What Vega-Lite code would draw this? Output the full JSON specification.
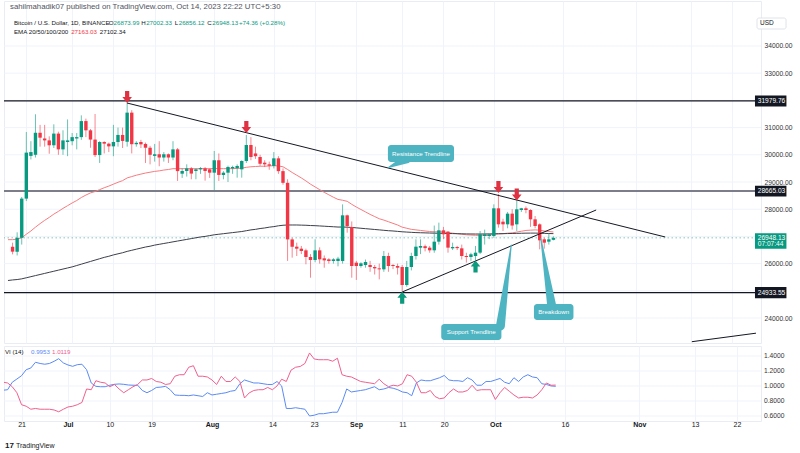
{
"$schema":"https://vega.github.io/schema/vega-lite/v6.json",
"background":"#ffffff",
"padding":{"left":2,"top":0,"right":0,"bottom":0},
"spacing":1,
"config":{"font":"Liberation Sans","view":{"stroke":"#e9ecf2"},"axis":{"ticks":false,"tickSize":0,"domain":false,"labelFontSize":7,"labelColor":"#333333"}},
"datasets":{
"candles":[
{"d":"2023-06-18","o":26620,"h":26770,"l":26340,"c":26440},
{"d":"2023-06-19","o":26440,"h":27150,"l":26300,"c":26950},
{"d":"2023-06-20","o":26950,"h":28450,"l":26700,"c":28390},
{"d":"2023-06-21","o":28390,"h":30840,"l":28300,"c":30080},
{"d":"2023-06-22","o":29960,"h":30500,"l":29830,"c":30100},
{"d":"2023-06-23","o":30000,"h":31490,"l":29900,"c":30810},
{"d":"2023-06-24","o":30810,"h":31100,"l":30300,"c":30630},
{"d":"2023-06-25","o":30600,"h":31100,"l":30300,"c":30530},
{"d":"2023-06-26","o":30530,"h":30680,"l":30040,"c":30350},
{"d":"2023-06-27","o":30350,"h":31120,"l":30250,"c":30780},
{"d":"2023-06-28","o":30780,"h":30850,"l":30000,"c":30200},
{"d":"2023-06-29","o":30200,"h":30900,"l":30000,"c":30530},
{"d":"2023-06-30","o":30470,"h":31300,"l":29950,"c":30530},
{"d":"2023-07-01","o":30500,"h":30800,"l":30350,"c":30650},
{"d":"2023-07-02","o":30600,"h":30800,"l":30200,"c":30650},
{"d":"2023-07-03","o":30650,"h":31450,"l":30550,"c":31240},
{"d":"2023-07-04","o":31240,"h":31330,"l":30650,"c":30900},
{"d":"2023-07-05","o":30900,"h":30950,"l":30260,"c":30560},
{"d":"2023-07-06","o":30560,"h":31500,"l":29920,"c":29990},
{"d":"2023-07-07","o":29990,"h":30500,"l":29700,"c":30470},
{"d":"2023-07-08","o":30470,"h":30500,"l":30050,"c":30410},
{"d":"2023-07-09","o":30410,"h":30450,"l":30100,"c":30310},
{"d":"2023-07-10","o":30310,"h":31100,"l":29950,"c":30470},
{"d":"2023-07-11","o":30470,"h":31000,"l":30300,"c":30730},
{"d":"2023-07-12","o":30730,"h":31000,"l":30250,"c":30510},
{"d":"2023-07-13","o":30480,"h":31920,"l":30300,"c":31550},
{"d":"2023-07-14","o":31550,"h":31640,"l":30050,"c":30390},
{"d":"2023-07-15","o":30390,"h":30500,"l":30300,"c":30440},
{"d":"2023-07-16","o":30470,"h":30550,"l":30250,"c":30385},
{"d":"2023-07-17","o":30400,"h":30450,"l":29700,"c":30260},
{"d":"2023-07-18","o":30260,"h":30330,"l":29650,"c":30000},
{"d":"2023-07-19","o":29960,"h":30400,"l":29750,"c":30020},
{"d":"2023-07-20","o":30020,"h":30500,"l":29580,"c":29900},
{"d":"2023-07-21","o":29900,"h":30100,"l":29750,"c":30020},
{"d":"2023-07-22","o":30020,"h":30050,"l":29700,"c":29900},
{"d":"2023-07-23","o":29900,"h":30500,"l":29800,"c":30200},
{"d":"2023-07-24","o":30200,"h":30250,"l":29040,"c":29400},
{"d":"2023-07-25","o":29306,"h":29500,"l":29150,"c":29405},
{"d":"2023-07-26","o":29405,"h":29650,"l":29200,"c":29500},
{"d":"2023-07-27","o":29500,"h":29550,"l":29100,"c":29310},
{"d":"2023-07-28","o":29405,"h":29500,"l":29100,"c":29466},
{"d":"2023-07-29","o":29466,"h":29550,"l":29300,"c":29510},
{"d":"2023-07-30","o":29500,"h":29550,"l":29050,"c":29405},
{"d":"2023-07-31","o":29466,"h":29500,"l":29150,"c":29343},
{"d":"2023-08-01","o":29343,"h":30140,"l":28700,"c":29800},
{"d":"2023-08-02","o":29800,"h":30050,"l":29040,"c":29260},
{"d":"2023-08-03","o":29257,"h":29400,"l":29100,"c":29343},
{"d":"2023-08-04","o":29343,"h":29600,"l":29000,"c":29552},
{"d":"2023-08-05","o":29500,"h":29600,"l":29300,"c":29552},
{"d":"2023-08-06","o":29510,"h":29650,"l":29160,"c":29590},
{"d":"2023-08-07","o":29466,"h":29800,"l":29160,"c":29772},
{"d":"2023-08-08","o":29772,"h":30730,"l":29700,"c":30360},
{"d":"2023-08-09","o":30360,"h":30650,"l":29800,"c":29920},
{"d":"2023-08-10","o":30050,"h":30300,"l":29850,"c":29950},
{"d":"2023-08-11","o":29919,"h":30000,"l":29600,"c":29674},
{"d":"2023-08-12","o":29711,"h":29800,"l":29550,"c":29650},
{"d":"2023-08-13","o":29650,"h":29750,"l":29450,"c":29600},
{"d":"2023-08-14","o":29590,"h":30100,"l":29500,"c":29870},
{"d":"2023-08-15","o":29870,"h":29950,"l":29300,"c":29400},
{"d":"2023-08-16","o":29400,"h":29500,"l":28900,"c":28970},
{"d":"2023-08-17","o":28970,"h":29100,"l":26100,"c":26890},
{"d":"2023-08-18","o":26890,"h":26950,"l":26220,"c":26620},
{"d":"2023-08-19","o":26623,"h":26770,"l":26280,"c":26550},
{"d":"2023-08-20","o":26550,"h":26650,"l":26350,"c":26464},
{"d":"2023-08-21","o":26488,"h":26550,"l":25974,"c":26243},
{"d":"2023-08-22","o":26243,"h":26350,"l":25483,"c":26133},
{"d":"2023-08-23","o":26133,"h":26893,"l":26050,"c":26488},
{"d":"2023-08-24","o":26488,"h":26600,"l":26000,"c":26157},
{"d":"2023-08-25","o":26194,"h":26300,"l":25850,"c":26120},
{"d":"2023-08-26","o":26157,"h":26200,"l":26000,"c":26096},
{"d":"2023-08-27","o":26096,"h":26200,"l":26000,"c":26157},
{"d":"2023-08-28","o":26096,"h":26250,"l":25900,"c":26182},
{"d":"2023-08-29","o":26096,"h":28179,"l":26000,"c":27775},
{"d":"2023-08-30","o":27775,"h":27800,"l":27138,"c":27383},
{"d":"2023-08-31","o":27346,"h":27550,"l":25483,"c":25912},
{"d":"2023-09-01","o":26035,"h":26100,"l":25400,"c":25912},
{"d":"2023-09-02","o":25912,"h":26050,"l":25850,"c":26010},
{"d":"2023-09-03","o":25950,"h":26150,"l":25850,"c":26060},
{"d":"2023-09-04","o":25950,"h":26100,"l":25700,"c":25875},
{"d":"2023-09-05","o":25875,"h":25950,"l":25600,"c":25826},
{"d":"2023-09-06","o":25826,"h":26000,"l":25422,"c":25790},
{"d":"2023-09-07","o":25790,"h":26464,"l":25700,"c":26280},
{"d":"2023-09-08","o":26280,"h":26400,"l":25700,"c":25912},
{"d":"2023-09-09","o":25950,"h":25980,"l":25800,"c":25912},
{"d":"2023-09-10","o":25912,"h":26000,"l":25600,"c":25850},
{"d":"2023-09-11","o":25875,"h":25950,"l":24960,"c":25214},
{"d":"2023-09-12","o":25214,"h":26100,"l":25150,"c":25875},
{"d":"2023-09-13","o":25876,"h":26400,"l":25750,"c":26280},
{"d":"2023-09-14","o":26280,"h":26893,"l":26150,"c":26623},
{"d":"2023-09-15","o":26586,"h":26893,"l":26350,"c":26647},
{"d":"2023-09-16","o":26640,"h":26700,"l":26450,"c":26570},
{"d":"2023-09-17","o":26586,"h":26650,"l":26400,"c":26489},
{"d":"2023-09-18","o":26489,"h":27400,"l":26400,"c":26807},
{"d":"2023-09-19","o":26807,"h":27506,"l":26700,"c":27224},
{"d":"2023-09-20","o":27224,"h":27350,"l":26900,"c":27077},
{"d":"2023-09-21","o":27175,"h":27200,"l":26403,"c":26587},
{"d":"2023-09-22","o":26562,"h":26770,"l":26500,"c":26611},
{"d":"2023-09-23","o":26611,"h":26650,"l":26500,"c":26570},
{"d":"2023-09-24","o":26562,"h":26700,"l":26150,"c":26280},
{"d":"2023-09-25","o":26280,"h":26400,"l":26035,"c":26243},
{"d":"2023-09-26","o":26243,"h":26400,"l":26100,"c":26342},
{"d":"2023-09-27","o":26280,"h":26650,"l":26120,"c":26403},
{"d":"2023-09-28","o":26403,"h":27200,"l":26350,"c":27077},
{"d":"2023-09-29","o":27016,"h":27250,"l":26700,"c":27077},
{"d":"2023-09-30","o":27016,"h":27100,"l":26900,"c":27077},
{"d":"2023-10-01","o":27016,"h":28180,"l":26950,"c":28033},
{"d":"2023-10-02","o":28033,"h":28560,"l":27322,"c":27444},
{"d":"2023-10-03","o":27542,"h":27650,"l":27200,"c":27444},
{"d":"2023-10-04","o":27444,"h":27900,"l":27300,"c":27837},
{"d":"2023-10-05","o":27837,"h":28000,"l":27250,"c":27400},
{"d":"2023-10-06","o":27444,"h":28327,"l":27200,"c":27996},
{"d":"2023-10-07","o":27971,"h":28050,"l":27900,"c":28033},
{"d":"2023-10-08","o":28033,"h":28100,"l":27850,"c":27971},
{"d":"2023-10-09","o":27971,"h":28000,"l":27350,"c":27628},
{"d":"2023-10-10","o":27628,"h":27750,"l":27300,"c":27383},
{"d":"2023-10-11","o":27444,"h":27480,"l":26525,"c":26856},
{"d":"2023-10-12","o":26893,"h":26950,"l":26550,"c":26770},
{"d":"2023-10-13","o":26807,"h":27100,"l":26700,"c":26893},
{"d":"2023-10-14","o":26873.99,"h":27002.33,"l":26856.12,"c":26948.13}
],
"ind":[
{"d":"2023-06-17","e50":26880,"e200":25380,"vp":0.943,"vm":1.05},
{"d":"2023-06-18","e50":26880,"e200":25400,"vp":0.95,"vm":1.04},
{"d":"2023-06-19","e50":26900,"e200":25415,"vp":1.05,"vm":0.99},
{"d":"2023-06-20","e50":26950,"e200":25440,"vp":1.093,"vm":0.91},
{"d":"2023-06-21","e50":27080,"e200":25480,"vp":1.137,"vm":0.75},
{"d":"2023-06-22","e50":27200,"e200":25520,"vp":1.217,"vm":0.73},
{"d":"2023-06-23","e50":27340,"e200":25560,"vp":1.24,"vm":0.69},
{"d":"2023-06-24","e50":27470,"e200":25600,"vp":1.316,"vm":0.70},
{"d":"2023-06-25","e50":27590,"e200":25640,"vp":1.30,"vm":0.69},
{"d":"2023-06-26","e50":27700,"e200":25680,"vp":1.29,"vm":0.69},
{"d":"2023-06-27","e50":27820,"e200":25720,"vp":1.30,"vm":0.69},
{"d":"2023-06-28","e50":27920,"e200":25760,"vp":1.329,"vm":0.68},
{"d":"2023-06-29","e50":28030,"e200":25800,"vp":1.364,"vm":0.656},
{"d":"2023-06-30","e50":28130,"e200":25840,"vp":1.307,"vm":0.69},
{"d":"2023-07-01","e50":28230,"e200":25880,"vp":1.28,"vm":0.72},
{"d":"2023-07-02","e50":28320,"e200":25930,"vp":1.262,"vm":0.73},
{"d":"2023-07-03","e50":28430,"e200":25980,"vp":1.284,"vm":0.75},
{"d":"2023-07-04","e50":28520,"e200":26030,"vp":1.29,"vm":0.78},
{"d":"2023-07-05","e50":28600,"e200":26080,"vp":1.217,"vm":0.96},
{"d":"2023-07-06","e50":28650,"e200":26130,"vp":1.04,"vm":0.95},
{"d":"2023-07-07","e50":28720,"e200":26180,"vp":0.995,"vm":1.07},
{"d":"2023-07-08","e50":28790,"e200":26230,"vp":0.99,"vm":1.05},
{"d":"2023-07-09","e50":28850,"e200":26270,"vp":0.99,"vm":1.04},
{"d":"2023-07-10","e50":28920,"e200":26320,"vp":1.01,"vm":0.99},
{"d":"2023-07-11","e50":28990,"e200":26360,"vp":1.022,"vm":1.02},
{"d":"2023-07-12","e50":29050,"e200":26400,"vp":1.027,"vm":0.96},
{"d":"2023-07-13","e50":29150,"e200":26450,"vp":1.022,"vm":0.91},
{"d":"2023-07-14","e50":29200,"e200":26490,"vp":1.013,"vm":0.95},
{"d":"2023-07-15","e50":29250,"e200":26530,"vp":1.01,"vm":0.99},
{"d":"2023-07-16","e50":29290,"e200":26570,"vp":1.01,"vm":1.02},
{"d":"2023-07-17","e50":29330,"e200":26610,"vp":0.94,"vm":1.08},
{"d":"2023-07-18","e50":29360,"e200":26640,"vp":0.91,"vm":1.08},
{"d":"2023-07-19","e50":29390,"e200":26680,"vp":0.94,"vm":1.10},
{"d":"2023-07-20","e50":29410,"e200":26710,"vp":0.98,"vm":1.06},
{"d":"2023-07-21","e50":29440,"e200":26740,"vp":0.985,"vm":1.05},
{"d":"2023-07-22","e50":29460,"e200":26770,"vp":0.995,"vm":1.02},
{"d":"2023-07-23","e50":29490,"e200":26800,"vp":0.95,"vm":1.03},
{"d":"2023-07-24","e50":29490,"e200":26830,"vp":0.88,"vm":1.13},
{"d":"2023-07-25","e50":29490,"e200":26860,"vp":0.875,"vm":1.15},
{"d":"2023-07-26","e50":29490,"e200":26890,"vp":0.875,"vm":1.15},
{"d":"2023-07-27","e50":29490,"e200":26920,"vp":0.87,"vm":1.25},
{"d":"2023-07-28","e50":29490,"e200":26950,"vp":0.88,"vm":1.27},
{"d":"2023-07-29","e50":29490,"e200":26980,"vp":0.87,"vm":1.13},
{"d":"2023-07-30","e50":29490,"e200":27000,"vp":0.86,"vm":1.13},
{"d":"2023-07-31","e50":29490,"e200":27030,"vp":0.91,"vm":1.12},
{"d":"2023-08-01","e50":29500,"e200":27060,"vp":0.88,"vm":1.08},
{"d":"2023-08-02","e50":29490,"e200":27080,"vp":0.89,"vm":1.02},
{"d":"2023-08-03","e50":29490,"e200":27100,"vp":0.90,"vm":1.13},
{"d":"2023-08-04","e50":29490,"e200":27120,"vp":0.91,"vm":1.06},
{"d":"2023-08-05","e50":29490,"e200":27140,"vp":0.93,"vm":1.06},
{"d":"2023-08-06","e50":29500,"e200":27160,"vp":0.94,"vm":1.12},
{"d":"2023-08-07","e50":29510,"e200":27180,"vp":1.03,"vm":1.06},
{"d":"2023-08-08","e50":29540,"e200":27210,"vp":1.08,"vm":0.84},
{"d":"2023-08-09","e50":29560,"e200":27240,"vp":1.06,"vm":0.907},
{"d":"2023-08-10","e50":29570,"e200":27260,"vp":1.04,"vm":0.94},
{"d":"2023-08-11","e50":29580,"e200":27290,"vp":1.04,"vm":0.95},
{"d":"2023-08-12","e50":29580,"e200":27310,"vp":1.03,"vm":0.95},
{"d":"2023-08-13","e50":29590,"e200":27340,"vp":1.02,"vm":0.98},
{"d":"2023-08-14","e50":29600,"e200":27360,"vp":1.02,"vm":0.95},
{"d":"2023-08-15","e50":29590,"e200":27390,"vp":1.06,"vm":1.0},
{"d":"2023-08-16","e50":29560,"e200":27410,"vp":1.0,"vm":1.09},
{"d":"2023-08-17","e50":29460,"e200":27420,"vp":0.70,"vm":1.06},
{"d":"2023-08-18","e50":29350,"e200":27420,"vp":0.70,"vm":1.21},
{"d":"2023-08-19","e50":29250,"e200":27420,"vp":0.71,"vm":1.25},
{"d":"2023-08-20","e50":29150,"e200":27415,"vp":0.70,"vm":1.26},
{"d":"2023-08-21","e50":29040,"e200":27410,"vp":0.69,"vm":1.30},
{"d":"2023-08-22","e50":28920,"e200":27400,"vp":0.60,"vm":1.44},
{"d":"2023-08-23","e50":28820,"e200":27395,"vp":0.61,"vm":1.36},
{"d":"2023-08-24","e50":28720,"e200":27385,"vp":0.63,"vm":1.35},
{"d":"2023-08-25","e50":28620,"e200":27375,"vp":0.63,"vm":1.35},
{"d":"2023-08-26","e50":28530,"e200":27365,"vp":0.64,"vm":1.35},
{"d":"2023-08-27","e50":28440,"e200":27355,"vp":0.65,"vm":1.33},
{"d":"2023-08-28","e50":28360,"e200":27345,"vp":0.65,"vm":1.37},
{"d":"2023-08-29","e50":28330,"e200":27345,"vp":0.78,"vm":1.15},
{"d":"2023-08-30","e50":28290,"e200":27340,"vp":0.96,"vm":1.13},
{"d":"2023-08-31","e50":28180,"e200":27330,"vp":0.92,"vm":1.12},
{"d":"2023-09-01","e50":28080,"e200":27315,"vp":0.93,"vm":1.09},
{"d":"2023-09-02","e50":27990,"e200":27300,"vp":0.94,"vm":1.06},
{"d":"2023-09-03","e50":27900,"e200":27285,"vp":0.95,"vm":1.05},
{"d":"2023-09-04","e50":27810,"e200":27270,"vp":0.97,"vm":1.04},
{"d":"2023-09-05","e50":27730,"e200":27255,"vp":0.99,"vm":1.03},
{"d":"2023-09-06","e50":27650,"e200":27240,"vp":0.95,"vm":1.09},
{"d":"2023-09-07","e50":27600,"e200":27225,"vp":0.96,"vm":1.03},
{"d":"2023-09-08","e50":27540,"e200":27210,"vp":0.98,"vm":0.99},
{"d":"2023-09-09","e50":27480,"e200":27200,"vp":0.97,"vm":1.01},
{"d":"2023-09-10","e50":27420,"e200":27185,"vp":0.95,"vm":1.0},
{"d":"2023-09-11","e50":27340,"e200":27170,"vp":0.92,"vm":1.03},
{"d":"2023-09-12","e50":27300,"e200":27160,"vp":0.91,"vm":1.15},
{"d":"2023-09-13","e50":27260,"e200":27150,"vp":0.87,"vm":1.13},
{"d":"2023-09-14","e50":27240,"e200":27140,"vp":1.04,"vm":1.05},
{"d":"2023-09-15","e50":27220,"e200":27135,"vp":1.08,"vm":0.91},
{"d":"2023-09-16","e50":27200,"e200":27130,"vp":1.07,"vm":0.91},
{"d":"2023-09-17","e50":27180,"e200":27125,"vp":1.07,"vm":0.94},
{"d":"2023-09-18","e50":27170,"e200":27120,"vp":1.09,"vm":0.86},
{"d":"2023-09-19","e50":27170,"e200":27115,"vp":1.11,"vm":0.83},
{"d":"2023-09-20","e50":27160,"e200":27112,"vp":1.14,"vm":0.84},
{"d":"2023-09-21","e50":27140,"e200":27108,"vp":1.08,"vm":0.91},
{"d":"2023-09-22","e50":27120,"e200":27104,"vp":1.07,"vm":0.96},
{"d":"2023-09-23","e50":27100,"e200":27100,"vp":1.07,"vm":0.92},
{"d":"2023-09-24","e50":27080,"e200":27096,"vp":1.06,"vm":0.92},
{"d":"2023-09-25","e50":27060,"e200":27092,"vp":1.11,"vm":0.94},
{"d":"2023-09-26","e50":27050,"e200":27090,"vp":1.08,"vm":1.01},
{"d":"2023-09-27","e50":27040,"e200":27088,"vp":1.01,"vm":0.94},
{"d":"2023-09-28","e50":27040,"e200":27088,"vp":1.01,"vm":0.95},
{"d":"2023-09-29","e50":27040,"e200":27090,"vp":1.06,"vm":0.95},
{"d":"2023-09-30","e50":27040,"e200":27092,"vp":1.06,"vm":0.95},
{"d":"2023-10-01","e50":27080,"e200":27096,"vp":1.08,"vm":0.82},
{"d":"2023-10-02","e50":27090,"e200":27100,"vp":1.10,"vm":0.91},
{"d":"2023-10-03","e50":27100,"e200":27102,"vp":1.05,"vm":0.98},
{"d":"2023-10-04","e50":27120,"e200":27105,"vp":1.03,"vm":0.93},
{"d":"2023-10-05","e50":27130,"e200":27108,"vp":1.11,"vm":0.88},
{"d":"2023-10-06","e50":27160,"e200":27112,"vp":1.06,"vm":0.84},
{"d":"2023-10-07","e50":27190,"e200":27116,"vp":1.12,"vm":0.85},
{"d":"2023-10-08","e50":27220,"e200":27120,"vp":1.15,"vm":0.85},
{"d":"2023-10-09","e50":27230,"e200":27122,"vp":1.12,"vm":0.84},
{"d":"2023-10-10","e50":27240,"e200":27122,"vp":1.11,"vm":0.88},
{"d":"2023-10-11","e50":27230,"e200":27118,"vp":1.03,"vm":0.95},
{"d":"2023-10-12","e50":27200,"e200":27112,"vp":1.02,"vm":1.04},
{"d":"2023-10-13","e50":27180,"e200":27106,"vp":1.00,"vm":1.01},
{"d":"2023-10-14","e50":27163.03,"e200":27102.34,"vp":0.9953,"vm":1.0119}
]
},
"vconcat":[
{
"width":757,"height":342,
"layer":[
{"data":{"values":[{"p":24000},{"p":25000},{"p":26000},{"p":27000},{"p":28000},{"p":29000},{"p":30000},{"p":31000},{"p":32000},{"p":33000},{"p":34000}]},
 "mark":{"type":"rule","color":"#f0f3fa","strokeWidth":1},
 "encoding":{"y":{"field":"p","type":"quantitative","title":null,"scale":{"domain":[23082,35654],"nice":false,"zero":false},
   "axis":{"orient":"right","values":[24000,26000,28000,29000,30000,31000,33000,34000],"format":".2f","grid":false,"labelPadding":3,"labelFontSize":6.7,"labelColor":"#333333","ticks":false,"tickSize":0,"domain":false,"labelOverlap":false}}}},
{"data":{"values":[{"p":31979.76},{"p":24933.55}]},
 "mark":{"type":"rule","color":"#131722","strokeWidth":1.2},
 "encoding":{"y":{"field":"p","type":"quantitative","title":null,"scale":{"domain":[23082,35654],"nice":false,"zero":false}}}},
{"data":{"values":[{"p":28665.03}]},
 "mark":{"type":"rule","color":"#7b7e88","strokeWidth":2},
 "encoding":{"y":{"field":"p","type":"quantitative","title":null,"scale":{"domain":[23082,35654],"nice":false,"zero":false}}}},
{"data":{"values":[{"p":26948.13}]},
 "mark":{"type":"rule","color":"#089981","strokeWidth":1,"strokeDash":[1.5,2.5],"opacity":0.5},
 "encoding":{"y":{"field":"p","type":"quantitative","title":null,"scale":{"domain":[23082,35654],"nice":false,"zero":false}}}},
{"data":{"name":"ind"},
 "mark":{"type":"line","color":"#f77c80","strokeWidth":1,"clip":true},
 "encoding":{"x":{"field":"d","type":"temporal","title":null,"scale":{"type":"utc","domain":[1686979180800,1701059875200],"nice":false}},
  "y":{"field":"e50","type":"quantitative","title":null,"scale":{"domain":[23082,35654],"nice":false,"zero":false}}}},
{"data":{"name":"ind"},
 "mark":{"type":"line","color":"#3c3f4a","strokeWidth":1,"clip":true},
 "encoding":{"x":{"field":"d","type":"temporal","title":null,"scale":{"type":"utc","domain":[1686979180800,1701059875200],"nice":false}},
  "y":{"field":"e200","type":"quantitative","title":null,"scale":{"domain":[23082,35654],"nice":false,"zero":false}}}},
{"data":{"name":"candles"},
 "mark":{"type":"rule","strokeWidth":1,"opacity":0.6},
 "encoding":{"x":{"field":"d","type":"temporal","title":null,"scale":{"type":"utc","domain":[1686979180800,1701059875200],"nice":false},
   "axis":{"values":[1687305600000,1688169600000,1688947200000,1689724800000,1690848000000,1691971200000,1692748800000,1693526400000,1694390400000,1695168000000,1696118400000,1697414400000,1698796800000,1699833600000,1700611200000],"labels":false,"grid":true,"gridColor":"#f0f3fa","ticks":false,"tickSize":0,"domain":false}},
  "y":{"field":"l","type":"quantitative","title":null,"scale":{"domain":[23082,35654],"nice":false,"zero":false}},
  "y2":{"field":"h"},
  "color":{"condition":{"test":"datum.c >= datum.o","value":"#089981"},"value":"#f23645"}}},
{"data":{"name":"candles"},
 "mark":{"type":"bar","size":3.4},
 "encoding":{"x":{"field":"d","type":"temporal","title":null,"scale":{"type":"utc","domain":[1686979180800,1701059875200],"nice":false}},
  "y":{"field":"o","type":"quantitative","title":null,"scale":{"domain":[23082,35654],"nice":false,"zero":false}},
  "y2":{"field":"c"},
  "color":{"condition":{"test":"datum.c >= datum.o","value":"#089981"},"value":"#f23645"}}},
{"data":{"values":[
  {"d":"2023-07-12T23:00:00Z","d2":"2023-11-07T09:22:00Z","p":31905,"p2":26979},
  {"d":"2023-09-11T00:00:00Z","d2":"2023-10-23T07:40:00Z","p":24957,"p2":27971},
  {"d":"2023-11-13T04:48:00Z","d2":"2023-11-27T04:34:00Z","p":23130,"p2":23443}],
  "format":{"parse":{"d":"date","d2":"date"}}},
 "mark":{"type":"rule","color":"#131722","strokeWidth":1},
 "encoding":{"x":{"field":"d","type":"temporal","title":null,"scale":{"type":"utc","domain":[1686979180800,1701059875200],"nice":false}},
  "x2":{"field":"d2"},
  "y":{"field":"p","type":"quantitative","title":null,"scale":{"domain":[23082,35654],"nice":false,"zero":false}},
  "y2":{"field":"p2"}}},
{"data":{"values":[{"d":"2023-07-13","p":32125},{"d":"2023-08-08","p":31022},{"d":"2023-10-02","p":28817},{"d":"2023-10-06","p":28541}]},
 "mark":{"type":"point","shape":"M-0.35,-1L0.35,-1L0.35,0L0.8,0L0,1L-0.8,0L-0.35,0Z","size":144,"filled":true,"color":"#df3141","opacity":1,"strokeWidth":0},
 "encoding":{"x":{"field":"d","type":"temporal","title":null,"scale":{"type":"utc","domain":[1686979180800,1701059875200],"nice":false}},
  "y":{"field":"p","type":"quantitative","title":null,"scale":{"domain":[23082,35654],"nice":false,"zero":false}}}},
{"data":{"values":[{"d":"2023-09-11","p":24745},{"d":"2023-09-27","p":25894}]},
 "mark":{"type":"point","shape":"M-0.35,1L0.35,1L0.35,0L0.8,0L0,-1L-0.8,0L-0.35,0Z","size":144,"filled":true,"color":"#0b9a7e","opacity":1,"strokeWidth":0},
 "encoding":{"x":{"field":"d","type":"temporal","title":null,"scale":{"type":"utc","domain":[1686979180800,1701059875200],"nice":false}},
  "y":{"field":"p","type":"quantitative","title":null,"scale":{"domain":[23082,35654],"nice":false,"zero":false}}}},
{"data":{"values":[
  {"g":"res","end":"tip","d":"2023-09-08T00:00:00Z","p":29534},
  {"g":"res","end":"base","d":"2023-09-11T23:30:00Z","p":29846},
  {"g":"sup","end":"tip","d":"2023-10-04T19:12:00Z","p":26685},
  {"g":"sup","end":"base","d":"2023-10-02T10:19:00Z","p":23707},
  {"g":"brk","end":"tip","d":"2023-10-11T06:14:00Z","p":26923},
  {"g":"brk","end":"base","d":"2023-10-13T15:07:00Z","p":24442}]},
 "mark":{"type":"trail","color":"#4fb4c2"},
 "encoding":{"x":{"field":"d","type":"temporal","title":null,"scale":{"type":"utc","domain":[1686979180800,1701059875200],"nice":false}},
  "y":{"field":"p","type":"quantitative","title":null,"scale":{"domain":[23082,35654],"nice":false,"zero":false}},
  "detail":{"field":"g","type":"nominal"},
  "size":{"field":"end","type":"nominal","scale":{"domain":["tip","base"],"range":[1,9]},"legend":null}}},
{"data":{"values":[
  {"d":"2023-09-07T21:22:00Z","d2":"2023-09-22T07:26:00Z","p":30361,"p2":29736},
  {"d":"2023-09-19T12:29:00Z","d2":"2023-10-02T15:36:00Z","p":23781,"p2":23193},
  {"d":"2023-10-09T18:00:00Z","d2":"2023-10-18T08:53:00Z","p":24516,"p2":23928}],
  "format":{"parse":{"d":"date","d2":"date"}}},
 "mark":{"type":"rect","color":"#4fb4c2","cornerRadius":3},
 "encoding":{"x":{"field":"d","type":"temporal","title":null,"scale":{"type":"utc","domain":[1686979180800,1701059875200],"nice":false}},
  "x2":{"field":"d2"},
  "y":{"field":"p","type":"quantitative","title":null,"scale":{"domain":[23082,35654],"nice":false,"zero":false}},
  "y2":{"field":"p2"}}},
{"data":{"values":[
  {"d":"2023-09-15T02:24:00Z","p":30048,"t":"Resistance Trendline"},
  {"d":"2023-09-26T01:55:00Z","p":23487,"t":"Support Trendline"},
  {"d":"2023-10-14T01:26:00Z","p":24222,"t":"Breakdown"}]},
 "mark":{"type":"text","color":"#ffffff","fontSize":6.2,"align":"center","baseline":"middle"},
 "encoding":{"x":{"field":"d","type":"temporal","title":null,"scale":{"type":"utc","domain":[1686979180800,1701059875200],"nice":false}},
  "y":{"field":"p","type":"quantitative","title":null,"scale":{"domain":[23082,35654],"nice":false,"zero":false}},
  "text":{"field":"t"}}},
{"data":{"values":[
  {"d":"2023-11-26T23:17:00Z","d2":"2023-12-03T20:00:00Z","p":31777,"p2":32182},
  {"d":"2023-11-26T23:17:00Z","d2":"2023-12-03T20:00:00Z","p":28463,"p2":28867},
  {"d":"2023-11-26T23:17:00Z","d2":"2023-12-03T20:00:00Z","p":24731,"p2":25136}],
  "format":{"parse":{"d":"date","d2":"date"}}},
 "mark":{"type":"rect","color":"#131722"},
 "encoding":{"x":{"field":"d","type":"temporal","title":null,"scale":{"type":"utc","domain":[1686979180800,1701059875200],"nice":false}},
  "x2":{"field":"d2"},
  "y":{"field":"p","type":"quantitative","title":null,"scale":{"domain":[23082,35654],"nice":false,"zero":false}},
  "y2":{"field":"p2"}}},
{"data":{"values":[{"d":"2023-11-26T23:17:00Z","d2":"2023-12-03T20:00:00Z","p":26549,"p2":27115}],
  "format":{"parse":{"d":"date","d2":"date"}}},
 "mark":{"type":"rect","color":"#089981"},
 "encoding":{"x":{"field":"d","type":"temporal","title":null,"scale":{"type":"utc","domain":[1686979180800,1701059875200],"nice":false}},
  "x2":{"field":"d2"},
  "y":{"field":"p","type":"quantitative","title":null,"scale":{"domain":[23082,35654],"nice":false,"zero":false}},
  "y2":{"field":"p2"}}},
{"data":{"values":[{"d":"2023-11-27T09:50:00Z","d2":"2023-12-03T18:00:00Z","p":34625,"p2":35029}],
  "format":{"parse":{"d":"date","d2":"date"}}},
 "mark":{"type":"rect","fill":"#ffffff","stroke":"#e0e3eb","strokeWidth":1,"cornerRadius":2},
 "encoding":{"x":{"field":"d","type":"temporal","title":null,"scale":{"type":"utc","domain":[1686979180800,1701059875200],"nice":false}},
  "x2":{"field":"d2"},
  "y":{"field":"p","type":"quantitative","title":null,"scale":{"domain":[23082,35654],"nice":false,"zero":false}},
  "y2":{"field":"p2"}}},
{"data":{"values":[
  {"d":"2023-11-27T14:00:00Z","p":31979.76,"t":"31979.76"},
  {"d":"2023-11-27T14:00:00Z","p":28665.03,"t":"28665.03"},
  {"d":"2023-11-27T14:00:00Z","p":24933.55,"t":"24933.55"},
  {"d":"2023-11-27T14:00:00Z","p":26954,"t":"26948.13"},
  {"d":"2023-11-27T14:00:00Z","p":26711,"t":"07:07:44"}]},
 "mark":{"type":"text","color":"#ffffff","fontSize":6.6,"align":"left","baseline":"middle"},
 "encoding":{"x":{"field":"d","type":"temporal","title":null,"scale":{"type":"utc","domain":[1686979180800,1701059875200],"nice":false}},
  "y":{"field":"p","type":"quantitative","title":null,"scale":{"domain":[23082,35654],"nice":false,"zero":false}},
  "text":{"field":"t"}}},
{"data":{"values":[{"d":"2023-11-29T13:26:00Z","p":34827,"t":"USD"}]},
 "mark":{"type":"text","color":"#131722","fontSize":6.5,"align":"center","baseline":"middle"},
 "encoding":{"x":{"field":"d","type":"temporal","title":null,"scale":{"type":"utc","domain":[1686979180800,1701059875200],"nice":false}},
  "y":{"field":"p","type":"quantitative","title":null,"scale":{"domain":[23082,35654],"nice":false,"zero":false}},
  "text":{"field":"t"}}},
{"data":{"values":[{"d":"2023-06-17T10:29:00Z","p":35434,"t":"sahilmahadik07 published on TradingView.com, Oct 14, 2023 22:22 UTC+5:30"}]},
 "mark":{"type":"text","color":"#50535e","fontSize":7.8,"align":"left","baseline":"middle"},
 "encoding":{"x":{"field":"d","type":"temporal","title":null,"scale":{"type":"utc","domain":[1686979180800,1701059875200],"nice":false}},
  "y":{"field":"p","type":"quantitative","title":null,"scale":{"domain":[23082,35654],"nice":false,"zero":false}},
  "text":{"field":"t"}}},
{"data":{"values":[
  {"d":"2023-06-18T07:09:00Z","p":34834,"t":"Bitcoin / U.S. Dollar, 1D, BINANCE"},
  {"d":"2023-07-08T23:11:00Z","p":34834,"t":"O"},
  {"d":"2023-07-16T01:41:00Z","p":34834,"t":"H"},
  {"d":"2023-07-23T09:22:00Z","p":34834,"t":"L"},
  {"d":"2023-07-30T11:51:00Z","p":34834,"t":"C"},
  {"d":"2023-06-18T07:09:00Z","p":34526,"t":"EMA 20/50/100/200"},
  {"d":"2023-07-07T00:40:00Z","p":34526,"t":"27102.34"}]},
 "mark":{"type":"text","color":"#131722","fontSize":6.2,"align":"left","baseline":"middle"},
 "encoding":{"x":{"field":"d","type":"temporal","title":null,"scale":{"type":"utc","domain":[1686979180800,1701059875200],"nice":false}},
  "y":{"field":"p","type":"quantitative","title":null,"scale":{"domain":[23082,35654],"nice":false,"zero":false}},
  "text":{"field":"t"}}},
{"data":{"values":[
  {"d":"2023-07-10T01:00:00Z","p":34834,"t":"26873.99"},
  {"d":"2023-07-17T03:30:00Z","p":34834,"t":"27002.33"},
  {"d":"2023-07-24T06:01:00Z","p":34834,"t":"26856.12"},
  {"d":"2023-07-31T13:42:00Z","p":34834,"t":"26948.13"},
  {"d":"2023-08-06T09:12:00Z","p":34834,"t":"+74.36 (+0.28%)"}]},
 "mark":{"type":"text","color":"#089981","fontSize":6.2,"align":"left","baseline":"middle"},
 "encoding":{"x":{"field":"d","type":"temporal","title":null,"scale":{"type":"utc","domain":[1686979180800,1701059875200],"nice":false}},
  "y":{"field":"p","type":"quantitative","title":null,"scale":{"domain":[23082,35654],"nice":false,"zero":false}},
  "text":{"field":"t"}}},
{"data":{"values":[{"d":"2023-06-30T18:50:00Z","p":34526,"t":"27163.03"}]},
 "mark":{"type":"text","color":"#f23645","fontSize":6.2,"align":"left","baseline":"middle"},
 "encoding":{"x":{"field":"d","type":"temporal","title":null,"scale":{"type":"utc","domain":[1686979180800,1701059875200],"nice":false}},
  "y":{"field":"p","type":"quantitative","title":null,"scale":{"domain":[23082,35654],"nice":false,"zero":false}},
  "text":{"field":"t"}}}
]
},
{
"width":757,"height":75,
"layer":[
{"data":{"values":[{"v":0.6},{"v":0.8},{"v":1.0},{"v":1.2},{"v":1.4}]},
 "mark":{"type":"rule","color":"#f0f3fa","strokeWidth":1},
 "encoding":{"y":{"field":"v","type":"quantitative","title":null,"scale":{"domain":[0.533,1.533],"nice":false,"zero":false},"axis":null}}},
{"data":{"name":"ind"},
 "mark":{"type":"line","color":"#5b8af5","strokeWidth":1,"clip":true},
 "encoding":{"x":{"field":"d","type":"temporal","title":null,"scale":{"type":"utc","domain":[1686979180800,1701059875200],"nice":false},
   "axis":{"values":[1687305600000,1688169600000,1688947200000,1689724800000,1690848000000,1691971200000,1692748800000,1693526400000,1694390400000,1695168000000,1696118400000,1697414400000,1698796800000,1699833600000,1700611200000],
     "grid":true,"gridColor":"#f0f3fa","ticks":false,"tickSize":0,"domain":false,"labelPadding":-1,"labelFontSize":7,"labelColor":"#131722","labelFlush":false,"labelOverlap":false,
     "labelExpr":"utcdate(datum.value) == 1 ? utcFormat(datum.value, '%b') : '' + utcdate(datum.value)",
     "labelFontWeight":{"condition":{"test":"utcdate(datum.value) == 1","value":"bold"},"value":"normal"}}},
  "y":{"field":"vp","type":"quantitative","title":null,"scale":{"domain":[0.533,1.533],"nice":false,"zero":false},"axis":null}}},
{"data":{"name":"ind"},
 "mark":{"type":"line","color":"#f0608e","strokeWidth":1,"clip":true},
 "encoding":{"x":{"field":"d","type":"temporal","title":null,"scale":{"type":"utc","domain":[1686979180800,1701059875200],"nice":false}},
  "y":{"field":"vm","type":"quantitative","title":null,"scale":{"domain":[0.533,1.533],"nice":false,"zero":false},"axis":null}}},
{"data":{"values":[{"d":"2023-11-27T20:10:00Z","v":0.6,"t":"0.6000"},{"d":"2023-11-27T20:10:00Z","v":0.8,"t":"0.8000"},{"d":"2023-11-27T20:10:00Z","v":1.0,"t":"1.0000"},{"d":"2023-11-27T20:10:00Z","v":1.2,"t":"1.2000"},{"d":"2023-11-27T20:10:00Z","v":1.4,"t":"1.4000"}]},
 "mark":{"type":"text","color":"#333333","fontSize":6.7,"align":"left","baseline":"middle"},
 "encoding":{"x":{"field":"d","type":"temporal","title":null,"scale":{"type":"utc","domain":[1686979180800,1701059875200],"nice":false}},
  "y":{"field":"v","type":"quantitative","title":null,"scale":{"domain":[0.533,1.533],"nice":false,"zero":false},"axis":null},
  "text":{"field":"t"}}},
{"data":{"values":[{"d":"2023-06-17T10:29:00Z","v":1.449,"t":"VI (14)"}]},
 "mark":{"type":"text","color":"#131722","fontSize":6.2,"align":"left","baseline":"middle"},
 "encoding":{"x":{"field":"d","type":"temporal","title":null,"scale":{"type":"utc","domain":[1686979180800,1701059875200],"nice":false}},
  "y":{"field":"v","type":"quantitative","title":null,"scale":{"domain":[0.533,1.533],"nice":false,"zero":false},"axis":null},
  "text":{"field":"t"}}},
{"data":{"values":[{"d":"2023-06-23T00:49:00Z","v":1.449,"t":"0.9953"}]},
 "mark":{"type":"text","color":"#5b8af5","fontSize":6.2,"align":"left","baseline":"middle"},
 "encoding":{"x":{"field":"d","type":"temporal","title":null,"scale":{"type":"utc","domain":[1686979180800,1701059875200],"nice":false}},
  "y":{"field":"v","type":"quantitative","title":null,"scale":{"domain":[0.533,1.533],"nice":false,"zero":false},"axis":null},
  "text":{"field":"t"}}},
{"data":{"values":[{"d":"2023-06-27T13:19:00Z","v":1.449,"t":"1.0119"}]},
 "mark":{"type":"text","color":"#f0608e","fontSize":6.2,"align":"left","baseline":"middle"},
 "encoding":{"x":{"field":"d","type":"temporal","title":null,"scale":{"type":"utc","domain":[1686979180800,1701059875200],"nice":false}},
  "y":{"field":"v","type":"quantitative","title":null,"scale":{"domain":[0.533,1.533],"nice":false,"zero":false},"axis":null},
  "text":{"field":"t"}}},
{"data":{"values":[{"d":"2023-06-17T10:29:00Z","v":0.2,"t":"17"}]},
 "mark":{"type":"text","color":"#131722","fontSize":8,"fontWeight":"bold","align":"left","baseline":"middle"},
 "encoding":{"x":{"field":"d","type":"temporal","title":null,"scale":{"type":"utc","domain":[1686979180800,1701059875200],"nice":false}},
  "y":{"field":"v","type":"quantitative","title":null,"scale":{"domain":[0.533,1.533],"nice":false,"zero":false},"axis":null},
  "text":{"field":"t"}}},
{"data":{"values":[{"d":"2023-06-19T19:19:00Z","v":0.2,"t":"TradingView"}]},
 "mark":{"type":"text","color":"#131722","fontSize":7,"align":"left","baseline":"middle"},
 "encoding":{"x":{"field":"d","type":"temporal","title":null,"scale":{"type":"utc","domain":[1686979180800,1701059875200],"nice":false}},
  "y":{"field":"v","type":"quantitative","title":null,"scale":{"domain":[0.533,1.533],"nice":false,"zero":false},"axis":null},
  "text":{"field":"t"}}}
]
}
]
}
